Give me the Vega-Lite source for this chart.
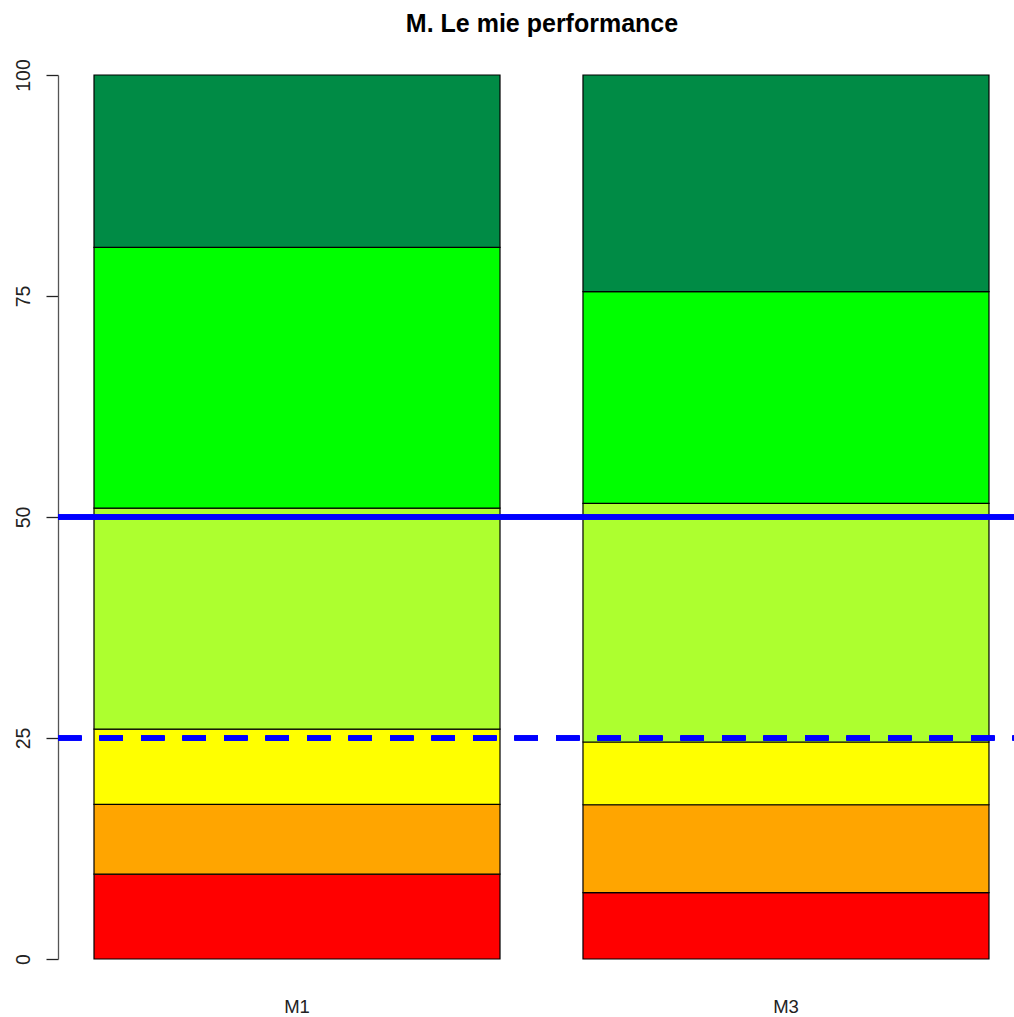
{
  "$schema": "https://vega.github.io/schema/vega-lite/v6.json",
  "width": 956,
  "height": 884,
  "autosize": {"type": "none"},
  "padding": {"left": 58, "top": 75, "right": 0, "bottom": 58},
  "background": "white",
  "config": {
    "view": {"stroke": null},
    "font": "Liberation Sans"
  },
  "title": {
    "text": "M. Le mie performance",
    "font": "Liberation Sans",
    "fontSize": 25,
    "fontWeight": "bold",
    "color": "#000000",
    "anchor": "middle",
    "baseline": "alphabetic",
    "offset": 2,
    "dx": 6
  },
  "data": {
    "values": [
      {"gruppo": "M1", "livello": 1, "valore": 9.6},
      {"gruppo": "M1", "livello": 2, "valore": 7.9},
      {"gruppo": "M1", "livello": 3, "valore": 8.5},
      {"gruppo": "M1", "livello": 4, "valore": 25.0},
      {"gruppo": "M1", "livello": 5, "valore": 29.5},
      {"gruppo": "M1", "livello": 6, "valore": 19.5},
      {"gruppo": "M3", "livello": 1, "valore": 7.5},
      {"gruppo": "M3", "livello": 2, "valore": 9.95},
      {"gruppo": "M3", "livello": 3, "valore": 7.1},
      {"gruppo": "M3", "livello": 4, "valore": 27.0},
      {"gruppo": "M3", "livello": 5, "valore": 23.95},
      {"gruppo": "M3", "livello": 6, "valore": 24.5}
    ]
  },
  "layer": [
    {
      "mark": {"type": "bar", "stroke": "#000000", "strokeWidth": 1.2},
      "encoding": {
        "x": {
          "field": "gruppo",
          "type": "nominal",
          "scale": {"paddingInner": 0.1697, "paddingOuter": 0.0624, "align": 0.59},
          "axis": {
            "title": null,
            "domain": false,
            "ticks": false,
            "labelAngle": 0,
            "labelFont": "Liberation Sans",
            "labelFontSize": 18.5,
            "labelColor": "#222222",
            "labelBaseline": "top",
            "labelPadding": 38
          }
        },
        "y": {
          "field": "valore",
          "type": "quantitative",
          "stack": "zero",
          "scale": {"domain": [0, 100], "nice": false, "zero": true},
          "axis": {
            "title": null,
            "values": [0, 25, 50, 75, 100],
            "grid": false,
            "domainColor": "#555555",
            "domainWidth": 1.3,
            "tickColor": "#222222",
            "tickWidth": 1.3,
            "tickSize": 12,
            "labelAngle": -90,
            "labelAlign": "center",
            "labelBaseline": "alphabetic",
            "labelPadding": 17,
            "labelFont": "Liberation Sans",
            "labelFontSize": 19.5,
            "labelColor": "#222222"
          }
        },
        "color": {
          "field": "livello",
          "type": "ordinal",
          "scale": {
            "domain": [1, 2, 3, 4, 5, 6],
            "range": ["#FF0000", "#FFA500", "#FFFF00", "#ADFF2F", "#00FF00", "#008B45"]
          },
          "legend": null
        },
        "order": {"field": "livello", "type": "quantitative"}
      }
    },
    {
      "mark": {"type": "rule", "color": "#0000FF", "strokeWidth": 4.5},
      "encoding": {"y": {"datum": 50, "type": "quantitative"}}
    },
    {
      "mark": {"type": "rule", "color": "#0000FF", "strokeWidth": 4.5, "strokeDash": [23.5, 18], "strokeDashOffset": 22},
      "encoding": {"y": {"datum": 25, "type": "quantitative"}}
    }
  ]
}
